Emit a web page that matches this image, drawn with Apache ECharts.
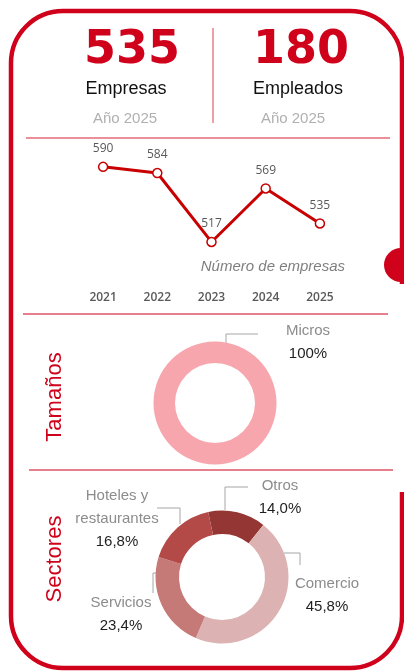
<!DOCTYPE html>
<html>
<head>
<meta charset="utf-8">
<script src="https://cdn.jsdelivr.net/npm/echarts@6/dist/echarts.min.js"></script>
<style>
  html, body { margin: 0; padding: 0; background: #fff; }
  #main { width: 404px; height: 671px; }
</style>
</head>
<body>
<div id="main"></div>
<script>
// datos
var years = ["2021", "2022", "2023", "2024", "2025"];
var empresas = [590, 584, 517, 569, 535];
var tamanoNames = ["Micros"];
var tamanoValues = [100];
var sectorNames = ["Otros", "Comercio", "Servicios", "Hoteles y\nrestaurantes"];
var sectorValues = [14.0, 45.8, 23.4, 16.8];
var sectorColors = ["#943634", "#dcb2b2", "#c67a78", "#b34a48"];
var totalEmpresas = "535";
var totalEmpleados = "180";
var anio = "Año 2025";

var RED = "#d0021b";
var FONT = "'Liberation Sans', Arial, sans-serif";

// posiciones de etiquetas (estilo Excel)
var tamanoLabelPos = [
  { x: 308, y: 342, line: [[226, 343], [226, 334], [258, 334]] }
];
var sectorLabelPos = [
  { x: 280, y: 497, line: [[225, 510], [225, 487], [248, 487]] },
  { x: 327, y: 595, line: [[284, 553], [300, 553], [300, 565]] },
  { x: 121, y: 614, line: [[156, 573], [153, 573], [153, 593]] },
  { x: 117, y: 519, line: [[180, 524], [180, 508], [157, 508]] }
];

function pctLabel(name, value, decimals) {
  var parts = name.split("\n").map(function (p) { return "{n|" + p + "}"; });
  parts.push("{v|" + value.toFixed(decimals).replace(".", ",") + "%}");
  return parts.join("\n");
}

var labelRich = {
  n: { fontFamily: FONT, fontSize: 15, color: "#8c8c8c", lineHeight: 23 },
  v: { fontFamily: FONT, fontSize: 15, color: "#1f1f1f", lineHeight: 23 }
};

function layoutFrom(list) {
  return function (params) {
    var p = list[params.dataIndex];
    return { x: p.x, y: p.y, align: "center", verticalAlign: "middle", labelLinePoints: p.line };
  };
}

var myChart = echarts.init(document.getElementById("main"));
var option = {
  animation: false,
  grid: { left: 76, right: 57, top: 136, bottom: 391 },
  xAxis: {
    type: "category",
    data: years,
    boundaryGap: true,
    axisLine: { show: false },
    axisTick: { show: false },
    axisLabel: { margin: 12, fontFamily: "'Open Sans', sans-serif", fontSize: 12, fontWeight: 600, color: "#595959" }
  },
  yAxis: { type: "value", min: 480, max: 620, show: false, splitLine: { show: false } },
  graphic: [
    {
      type: "rect", z: 1,
      shape: { x: 11, y: 11, width: 391, height: 657, r: 52 },
      style: { fill: "none", stroke: RED, lineWidth: 4.5 }
    },
    { type: "rect", z: 2, shape: { x: 398, y: 284, width: 8, height: 208 }, style: { fill: "#fff" } },
    { type: "circle", z: 3, shape: { cx: 401, cy: 265, r: 17 }, style: { fill: RED } },
    { type: "line", shape: { x1: 213, y1: 28, x2: 213, y2: 123 }, style: { stroke: "#e8808a", lineWidth: 1.5 } },
    { type: "line", shape: { x1: 26, y1: 138, x2: 390, y2: 138 }, style: { stroke: "#e46a77", lineWidth: 1.5 } },
    { type: "line", shape: { x1: 23, y1: 314, x2: 388, y2: 314 }, style: { stroke: RED, lineWidth: 1.2 } },
    { type: "line", shape: { x1: 29, y1: 470, x2: 393, y2: 470 }, style: { stroke: RED, lineWidth: 1.2 } },
    {
      type: "text", x: 132, y: 51,
      style: { text: totalEmpresas, fontFamily: "'DejaVu Sans', sans-serif", fontWeight: "bold", fontSize: 46, fill: RED,
        align: "center", verticalAlign: "middle" }
    },
    {
      type: "text", x: 301, y: 51,
      style: { text: totalEmpleados, fontFamily: "'DejaVu Sans', sans-serif", fontWeight: "bold", fontSize: 46, fill: RED,
        align: "center", verticalAlign: "middle" }
    },
    { type: "text", x: 126, y: 89, style: { text: "Empresas", fontFamily: FONT, fontSize: 18, fill: "#111", align: "center", verticalAlign: "middle" } },
    { type: "text", x: 298, y: 89, style: { text: "Empleados", fontFamily: FONT, fontSize: 18, fill: "#111", align: "center", verticalAlign: "middle" } },
    { type: "text", x: 125, y: 119, style: { text: anio, fontFamily: FONT, fontSize: 15, fill: "#b0b0b0", align: "center", verticalAlign: "middle" } },
    { type: "text", x: 293, y: 119, style: { text: anio, fontFamily: FONT, fontSize: 15, fill: "#b0b0b0", align: "center", verticalAlign: "middle" } },
    {
      type: "text", x: 345, y: 267,
      style: { text: "Número de empresas", fontFamily: FONT, fontStyle: "italic", fontSize: 15, fill: "#7f7f7f", align: "right", verticalAlign: "middle" }
    },
    {
      type: "text", x: 55, y: 397, rotation: Math.PI / 2,
      style: { text: "Tamaños", fontFamily: FONT, fontSize: 22, fill: RED, align: "center", verticalAlign: "middle" }
    },
    {
      type: "text", x: 55, y: 559, rotation: Math.PI / 2,
      style: { text: "Sectores", fontFamily: FONT, fontSize: 22, fill: RED, align: "center", verticalAlign: "middle" }
    }
  ],
  series: [
    {
      type: "line",
      data: empresas,
      symbol: "circle",
      symbolSize: 9,
      lineStyle: { color: "#c80000", width: 3 },
      itemStyle: { color: "#fff", borderColor: "#c80000", borderWidth: 1.5 },
      label: { show: true, position: "top", distance: 7, fontFamily: "'Open Sans', sans-serif", fontSize: 12, color: "#595959" },
      emphasis: { disabled: true }
    },
    {
      type: "pie",
      center: [215, 403],
      radius: [40, 61.5],
      startAngle: 90,
      avoidLabelOverlap: false,
      emphasis: { disabled: true },
      data: tamanoNames.map(function (n, i) { return { name: n, value: tamanoValues[i] }; }),
      itemStyle: { color: "#f7a6ad" },
      label: {
        show: true,
        formatter: function (p) { return pctLabel(p.name, p.value, 0); },
        rich: labelRich
      },
      labelLine: { show: true, lineStyle: { color: "#a6a6a6", width: 1 } },
      labelLayout: layoutFrom(tamanoLabelPos)
    },
    {
      type: "pie",
      center: [222, 577],
      radius: [43, 66.5],
      startAngle: 102,
      clockwise: true,
      avoidLabelOverlap: false,
      emphasis: { disabled: true },
      data: sectorNames.map(function (n, i) {
        return { name: n, value: sectorValues[i], itemStyle: { color: sectorColors[i] } };
      }),
      label: {
        show: true,
        formatter: function (p) { return pctLabel(p.name, p.value, 1); },
        rich: labelRich
      },
      labelLine: { show: true, lineStyle: { color: "#a6a6a6", width: 1 } },
      labelLayout: layoutFrom(sectorLabelPos)
    }
  ]
};
myChart.setOption(option);
</script>
</body>
</html>
